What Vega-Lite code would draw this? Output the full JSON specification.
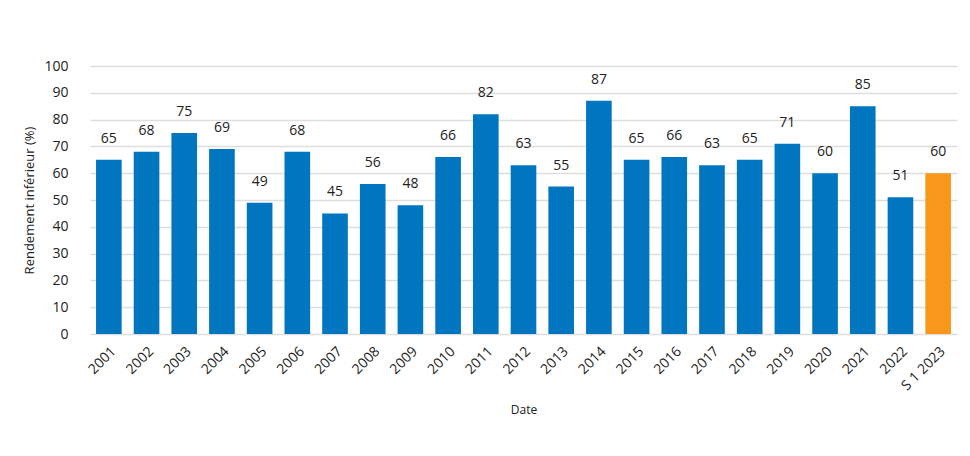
{
  "$schema": "https://vega.github.io/schema/vega-lite/v6.json",
  "autosize": {"type": "none"},
  "padding": {"left": 90, "top": 66, "right": 13, "bottom": 122},
  "width": 867,
  "height": 268,
  "background": "white",
  "data": {
    "values": [
      {"date": "2001", "value": 65, "kind": "annual"},
      {"date": "2002", "value": 68, "kind": "annual"},
      {"date": "2003", "value": 75, "kind": "annual"},
      {"date": "2004", "value": 69, "kind": "annual"},
      {"date": "2005", "value": 49, "kind": "annual"},
      {"date": "2006", "value": 68, "kind": "annual"},
      {"date": "2007", "value": 45, "kind": "annual"},
      {"date": "2008", "value": 56, "kind": "annual"},
      {"date": "2009", "value": 48, "kind": "annual"},
      {"date": "2010", "value": 66, "kind": "annual"},
      {"date": "2011", "value": 82, "kind": "annual"},
      {"date": "2012", "value": 63, "kind": "annual"},
      {"date": "2013", "value": 55, "kind": "annual"},
      {"date": "2014", "value": 87, "kind": "annual"},
      {"date": "2015", "value": 65, "kind": "annual"},
      {"date": "2016", "value": 66, "kind": "annual"},
      {"date": "2017", "value": 63, "kind": "annual"},
      {"date": "2018", "value": 65, "kind": "annual"},
      {"date": "2019", "value": 71, "kind": "annual"},
      {"date": "2020", "value": 60, "kind": "annual"},
      {"date": "2021", "value": 85, "kind": "annual"},
      {"date": "2022", "value": 51, "kind": "annual"},
      {"date": "S 1 2023", "value": 60, "kind": "half"}
    ]
  },
  "encoding": {
    "x": {
      "field": "date",
      "type": "nominal",
      "sort": null,
      "title": "Date",
      "scale": {"paddingInner": 0.32, "paddingOuter": 0.16},
      "axis": {
        "labelAngle": -45,
        "labelAlign": "right",
        "labelBaseline": "top",
        "labelFontSize": 14,
        "labelColor": "#222222",
        "labelPadding": 10,
        "ticks": false,
        "domain": false,
        "titleFontSize": 12,
        "titleFontWeight": "normal",
        "titleColor": "#222222",
        "titlePadding": 12
      }
    },
    "y": {
      "field": "value",
      "type": "quantitative",
      "title": "Rendement inférieur (%)",
      "scale": {"domain": [0, 100]},
      "axis": {
        "values": [0, 10, 20, 30, 40, 50, 60, 70, 80, 90, 100],
        "labelFontSize": 14,
        "labelColor": "#222222",
        "labelPadding": 22,
        "ticks": false,
        "domain": false,
        "grid": true,
        "gridColor": "#dedede",
        "gridWidth": 1.5,
        "titleFontSize": 13,
        "titleFontWeight": "normal",
        "titleColor": "#222222",
        "titlePadding": 7
      }
    }
  },
  "layer": [
    {
      "mark": {"type": "bar"},
      "encoding": {
        "color": {
          "field": "kind",
          "type": "nominal",
          "scale": {"domain": ["annual", "half"], "range": ["#0076C0", "#F7981D"]},
          "legend": null
        }
      }
    },
    {
      "mark": {"type": "text", "baseline": "bottom", "dy": -14, "fontSize": 14, "color": "#222222"},
      "encoding": {"text": {"field": "value", "type": "quantitative"}}
    }
  ],
  "config": {
    "view": {"stroke": null},
    "font": "Open Sans"
  }
}
